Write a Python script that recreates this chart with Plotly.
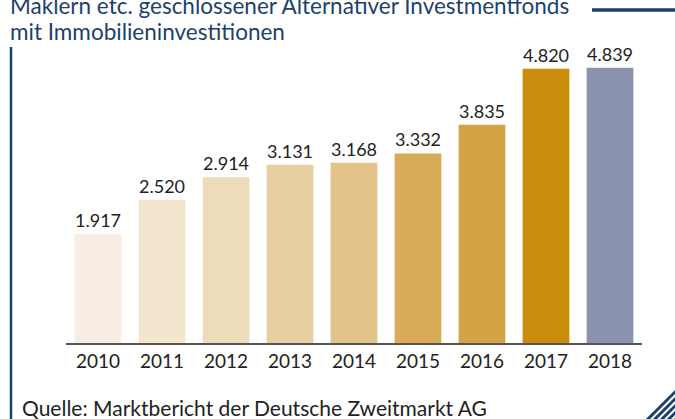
import plotly.graph_objects as go

years = ["2010", "2011", "2012", "2013", "2014", "2015", "2016", "2017", "2018"]
values = [1917, 2520, 2914, 3131, 3168, 3332, 3835, 4820, 4839]
bar_colors = ["#f7ede3", "#f3e6cf", "#eddbb9", "#e8cfa2", "#e3c38a", "#daab56", "#d4a444", "#c98d0b", "#8c93ae"]

title_lines = ["Maklern etc. geschlossener Alternativer Investmentfonds", "mit Immobilieninvestitionen"]
source_text = "Quelle: Marktbericht der Deutsche Zweitmarkt AG"

W, H = 675, 419
ML, MR, MT, MB = 66, 33, 50, 76
PW, PH = W - ML - MR, H - MT - MB
NAVY = "#1d3f6e"
FONT = "Lato, 'Open Sans', sans-serif"

def px(x):
    return (x - ML) / PW

def py(y):
    return (H - MB - y) / PH

fig = go.Figure(go.Bar(
    x=years, y=values, marker_color=bar_colors, marker_line_width=0,
    texttemplate="%{y:,}", textposition="outside",
    textfont=dict(size=18, color="#222222", family=FONT),
    cliponaxis=False, width=0.73, hoverinfo="skip",
))

shapes = [
    dict(type="line", xref="paper", yref="paper", x0=px(11), x1=px(11), y0=py(47), y1=py(425),
         line=dict(color=NAVY, width=2.5)),
    dict(type="line", xref="paper", yref="paper", x0=px(592), x1=px(680), y0=py(10), y1=py(10),
         line=dict(color=NAVY, width=3.5)),
]
for d in [0, 7, 14, 21, 28, 35]:
    shapes.append(dict(type="line", xref="paper", yref="paper",
                       x0=px(645 + d), y0=py(422), x1=px(690 + d), y1=py(377),
                       line=dict(color=NAVY, width=3)))

annotations = [
    dict(text=title_lines[0], xref="paper", yref="paper", x=px(8), y=py(6), xanchor="left", yanchor="middle",
         showarrow=False, font=dict(size=22.5, color=NAVY, family=FONT)),
    dict(text=title_lines[1], xref="paper", yref="paper", x=px(8), y=py(32), xanchor="left", yanchor="middle",
         showarrow=False, font=dict(size=22.5, color=NAVY, family=FONT)),
    dict(text=source_text, xref="paper", yref="paper", x=px(20), y=py(407), xanchor="left", yanchor="middle",
         showarrow=False, font=dict(size=21, color="#222222", family=FONT)),
]

fig.update_layout(
    width=W, height=H, margin=dict(l=ML, r=MR, t=MT, b=MB),
    paper_bgcolor="white", plot_bgcolor="white", showlegend=False,
    separators=",.", shapes=shapes, annotations=annotations,
    font=dict(family=FONT),
)
fig.update_xaxes(showline=True, linecolor="#555555", linewidth=1.5, ticks="", showgrid=False,
                 tickfont=dict(size=19, color="#222222", family=FONT), range=[-0.5, 8.5])
fig.update_yaxes(visible=False, range=[0, 5150])

fig.write_html("out.html", config={"displayModeBar": False},
               post_script="document.body.style.margin='0';document.body.style.overflow='hidden';")
